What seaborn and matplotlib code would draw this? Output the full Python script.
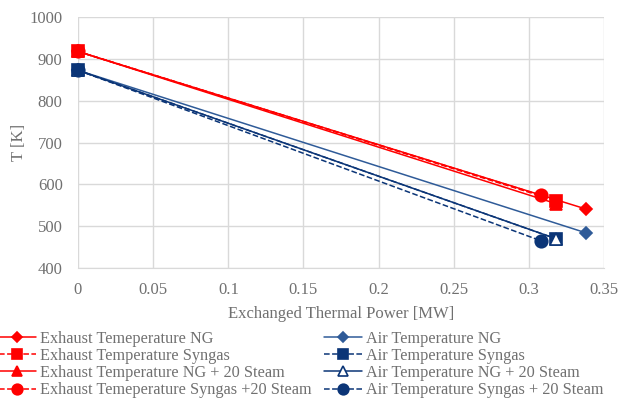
import matplotlib
matplotlib.use('Agg')
import matplotlib.pyplot as plt
import pandas as pd
import seaborn as sns

# series: (label, power start/end [MW], temperature start/end [K])
labels = ['Exhaust Temeperature NG', 'Exhaust Temperature Syngas',
          'Exhaust Temperature NG + 20 Steam', 'Exhaust Temeperature Syngas +20 Steam',
          'Air Temperature NG', 'Air Temperature Syngas',
          'Air Temperature NG + 20 Steam', 'Air Temperature Syngas + 20 Steam']
power_mw = [[0, 0.338], [0, 0.318], [0, 0.318], [0, 0.308],
            [0, 0.338], [0, 0.318], [0, 0.318], [0, 0.308]]
temp_k = [[918, 541], [918, 561], [918, 554], [918, 574],
          [873, 484], [873, 470], [873, 470], [873, 465]]

red = '#ff0000'
navy = '#0b3577'
grey = '#707070'
colors = [red, red, red, red, '#2f5b98', navy, navy, navy]
markers = ['D', 's', '^', 'o', 'D', 's', '^', 'o']
msizes = [6.5, 9, 8, 9, 6.5, 9, 8, 9]
dashes = ['-', '--', '-', '--', '-', '--', '-', '--']

sns.set_style('white')
plt.rcParams['font.family'] = ['Liberation Serif', 'DejaVu Serif']

fig, ax = plt.subplots(figsize=(6.19, 4.0), dpi=100)
fig.subplots_adjust(left=0.126, right=0.976, top=0.957, bottom=0.33)

for i, lab in enumerate(labels):
    df = pd.DataFrame({'x': power_mw[i], 'y': temp_k[i]})
    mfc = colors[i]
    if lab == 'Air Temperature NG + 20 Steam':
        mfc = 'white'
    sns.lineplot(data=df, x='x', y='y', ax=ax, color=colors[i], linestyle=dashes[i],
                 marker=markers[i], markersize=msizes[i], markerfacecolor=mfc,
                 markeredgecolor=colors[i], markeredgewidth=1.2, linewidth=1.1,
                 label=lab, zorder=3 + i, clip_on=False)

ax.set_xlim(0, 0.35)
ax.set_ylim(400, 1000)
ax.set_xticks([0, 0.05, 0.1, 0.15, 0.2, 0.25, 0.3, 0.35])
ax.set_xticklabels(['0', '0.05', '0.1', '0.15', '0.2', '0.25', '0.3', '0.35'])
ax.set_yticks(range(400, 1001, 100))
ax.grid(True, color='#d9d9d9', linewidth=1)
for s in ['top', 'right', 'left']:
    ax.spines[s].set_visible(False)
ax.spines['bottom'].set_color('#d9d9d9')
ax.tick_params(colors=grey, labelsize=12, length=0)
ax.tick_params(axis='x', pad=10)
ax.tick_params(axis='y', pad=11)
ax.set_xlabel('Exchanged Thermal Power [MW]', color=grey, fontsize=12, labelpad=6)
ax.set_ylabel('T [K]', color=grey, fontsize=12, labelpad=2)

handles, labs = ax.get_legend_handles_labels()
ax.get_legend().remove()
fig.legend(handles, labs, loc='upper left', bbox_to_anchor=(-0.003, 0.173), ncol=2,
           frameon=False, fontsize=11.7, handlelength=2.3, columnspacing=0.8,
           labelspacing=0.07, handletextpad=0.25, borderaxespad=0, borderpad=0,
           labelcolor=grey, markerscale=0.85)

fig.savefig('out.png', dpi=100)
